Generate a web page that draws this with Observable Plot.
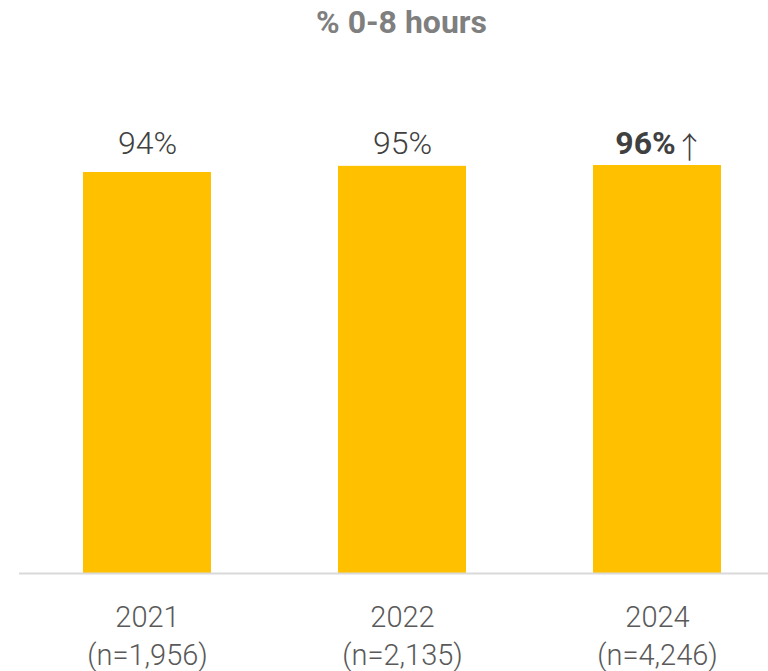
<!DOCTYPE html>
<html><head><meta charset="utf-8">
<script src="https://cdn.jsdelivr.net/npm/d3@7"></script>
<script src="https://cdn.jsdelivr.net/npm/@observablehq/plot@0.6"></script>
<style>
body{margin:0;background:#fff;}
#title{height:45px;box-sizing:border-box;padding-top:6px;padding-left:35px;font:700 32px/32px Roboto,sans-serif;color:#7f7f7f;text-align:center;white-space:nowrap;}
</style></head><body>
<div id="title">% 0-8 hours</div>
<div id="chart"></div>
<script>
const years = ["2021", "2022", "2024"];
const sampleSizes = ["1,956", "2,135", "4,246"];
const values = [94.35, 95.8, 96.0];
const valueLabels = ["94%", "95%", "96%"];
const highlight = [false, false, true];

const data = years.map((y, i) => ({year: y, n: sampleSizes[i], value: values[i], label: valueLabels[i], hi: highlight[i]}));
const nByYear = new Map(data.map(d => [d.year, d.n]));
const labelY = d3.max(values);

const plot = Plot.plot({
  width: 768,
  height: 626,
  marginTop: 103,
  marginBottom: 98,
  marginLeft: 57,
  marginRight: 21,
  style: {fontFamily: "Roboto, sans-serif", background: "white", overflow: "visible"},
  x: {domain: years, paddingInner: 0.5, paddingOuter: 0.1, label: null},
  y: {domain: [0, 100], axis: null},
  marks: [
    Plot.barY(data, {x: "year", y: "value", fill: "#FFC000"}),
    Plot.ruleY([0], {stroke: "#d9d9d9", strokeWidth: 2, insetLeft: -38, insetRight: -21}),
    Plot.text(data.filter(d => !d.hi), {x: "year", y: () => labelY, text: "label", lineAnchor: "bottom", dy: -12, fontSize: 32, fontWeight: 300, fill: "#404040"}),
    Plot.text(data.filter(d => d.hi), {x: "year", y: () => labelY, text: "label", lineAnchor: "bottom", dy: -12, dx: -12, fontSize: 32, fontWeight: 700, fill: "#404040"}),
    Plot.text(data.filter(d => d.hi), {x: "year", y: () => labelY, text: () => "↑", lineAnchor: "bottom", dy: -8, dx: 32, fontSize: 30, fontWeight: 300, fontFamily: "Noto Sans CJK SC", fill: "#404040"}),
    Plot.axisX({tickSize: 0, tickPadding: 26, fontSize: 29, fontWeight: 300, lineHeight: 1.32, color: "#595959", label: null,
      tickFormat: d => `${d}\n(n=${nByYear.get(d)})`})
  ]
});
document.getElementById("chart").appendChild(plot);
</script>
</body></html>
